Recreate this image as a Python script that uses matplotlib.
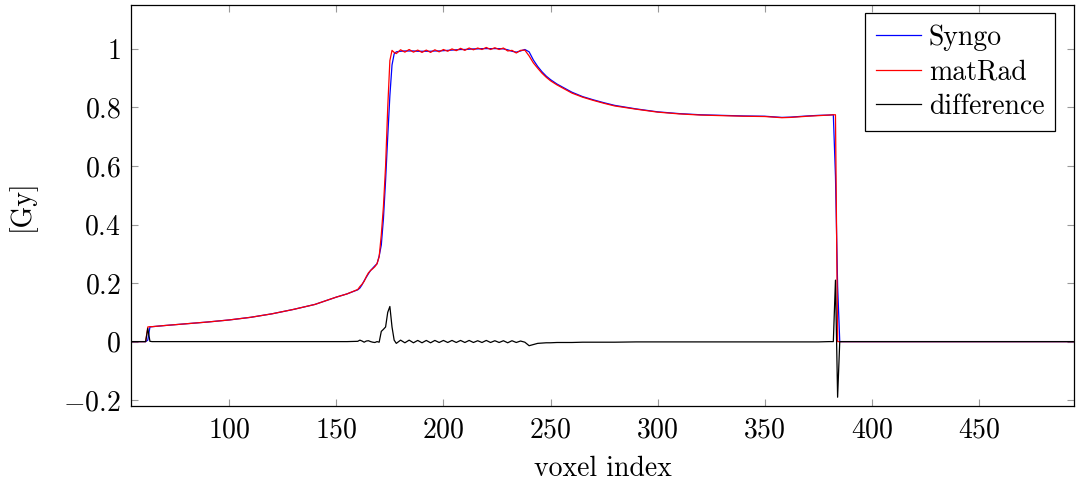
import matplotlib
matplotlib.use("Agg")
import matplotlib.pyplot as plt
from matplotlib.ticker import FuncFormatter, FixedLocator

# Dose profile along a line: Syngo vs matRad and their difference

voxel = [54, 61, 62, 63, 64, 70, 80, 90, 100, 110,
         120, 130, 140, 150, 155, 160, 161, 162, 163, 164,
         165, 166, 167, 168, 169, 170, 171, 172, 173, 174,
         175, 176, 177, 178, 180, 182, 184, 186, 188, 190,
         192, 194, 196, 198, 200, 202, 204, 206, 208, 210,
         212, 214, 216, 218, 220, 222, 224, 226, 228, 230,
         232, 234, 236, 238, 240, 242, 244, 246, 248, 250,
         253, 256, 260, 265, 270, 275, 280, 290, 300, 310,
         320, 330, 340, 350, 354, 358, 362, 366, 370, 375,
         380, 382, 383, 384, 385, 386, 494]

dose_syngo = [0.0, 0.0, 0.005, 0.050, 0.051, 0.055, 0.061, 0.067, 0.074, 0.083,
              0.095, 0.110, 0.127, 0.152, 0.163, 0.177, 0.183, 0.194, 0.208, 0.220,
              0.232, 0.243, 0.251, 0.259, 0.266, 0.292, 0.330, 0.420, 0.550, 0.700,
              0.840, 0.945, 0.983, 0.990, 0.992, 0.993, 0.993, 0.993, 0.992, 0.992,
              0.992, 0.992, 0.993, 0.993, 0.994, 0.995, 0.996, 0.997, 0.998, 0.998,
              0.999, 1.000, 1.000, 1.001, 1.001, 1.001, 1.001, 1.001, 1.000, 0.997,
              0.992, 0.989, 0.993, 0.998, 0.990, 0.962, 0.940, 0.922, 0.907, 0.895,
              0.880, 0.868, 0.852, 0.837, 0.826, 0.816, 0.807, 0.795, 0.785, 0.779,
              0.775, 0.773, 0.771, 0.770, 0.768, 0.766, 0.767, 0.769, 0.771, 0.773,
              0.774, 0.775, 0.565, 0.190, 0.0, 0.0, 0.0]

dose_matrad = [0.0, 0.0, 0.050, 0.051, 0.051, 0.055, 0.061, 0.067, 0.074, 0.083,
               0.095, 0.110, 0.127, 0.152, 0.163, 0.178, 0.188, 0.196, 0.206, 0.222,
               0.235, 0.243, 0.249, 0.256, 0.266, 0.290, 0.365, 0.462, 0.600, 0.800,
               0.960, 0.995, 0.988, 0.984, 0.997, 0.989, 0.998, 0.989, 0.996, 0.988,
               0.996, 0.988, 0.997, 0.990, 0.998, 0.992, 1.000, 0.994, 1.002, 0.995,
               1.003, 0.997, 1.003, 0.998, 1.005, 0.998, 1.004, 0.998, 1.003, 0.993,
               0.995, 0.986, 0.995, 0.996, 0.976, 0.952, 0.934, 0.917, 0.903, 0.891,
               0.877, 0.865, 0.849, 0.835, 0.824, 0.814, 0.805, 0.794, 0.784, 0.778,
               0.774, 0.772, 0.770, 0.769, 0.767, 0.765, 0.766, 0.768, 0.770, 0.772,
               0.774, 0.775, 0.775, 0.0, 0.0, 0.0, 0.0]

dose_diff = [0.0, 0.0, 0.045, 0.001, 0.0, 0.0, 0.0, 0.0, 0.0, 0.0,
             0.0, 0.0, 0.0, 0.0, 0.0, 0.001, 0.005, 0.002, -0.002, 0.002,
             0.003, 0.0, -0.002, -0.003, 0.0, -0.002, 0.035, 0.042, 0.050, 0.100,
             0.120, 0.050, 0.005, -0.006, 0.005, -0.004, 0.005, -0.004, 0.004, -0.004,
             0.004, -0.004, 0.004, -0.003, 0.004, -0.003, 0.004, -0.003, 0.004, -0.003,
             0.004, -0.003, 0.003, -0.003, 0.004, -0.003, 0.003, -0.003, 0.003, -0.004,
             0.003, -0.003, 0.002, -0.002, -0.014, -0.010, -0.006, -0.005, -0.004, -0.004,
             -0.003, -0.003, -0.003, -0.002, -0.002, -0.002, -0.002, -0.001, -0.001, -0.001,
             -0.001, -0.001, -0.001, -0.001, -0.001, -0.001, -0.001, -0.001, -0.001, -0.001,
             0.0, 0.0, 0.210, -0.190, 0.0, 0.0, 0.0]

x_ticks = [100, 150, 200, 250, 300, 350, 400, 450]
y_ticks = [-0.2, 0, 0.2, 0.4, 0.6, 0.8, 1]


plt.rcParams['font.family'] = ['cmr10', 'DejaVu Serif']
plt.rcParams['mathtext.fontset'] = 'cm'
plt.rcParams['mathtext.default'] = 'rm'
plt.rcParams['axes.unicode_minus'] = False

fig = plt.figure(figsize=(10.78, 4.86), dpi=100)
ax = fig.add_axes([0.1212, 0.1646, 0.8754, 0.8251])

ax.plot(voxel, dose_syngo, color=(0, 0, 1), lw=0.9, label='Syngo')
ax.plot(voxel, dose_matrad, color=(1, 0, 0), lw=0.9, label='matRad')
ax.plot(voxel, dose_diff, color='black', lw=0.9, label='difference')

ax.set_xlim(54, 494.5)
ax.set_ylim(-0.22, 1.15)

ax.xaxis.set_major_locator(FixedLocator(x_ticks))
ax.yaxis.set_major_locator(FixedLocator(y_ticks))
fmt = FuncFormatter(lambda v, pos: '$%g$' % v)
ax.xaxis.set_major_formatter(fmt)
ax.yaxis.set_major_formatter(fmt)

ax.tick_params(direction='in', length=5, width=0.8, color='#999999',
               top=True, right=True, labelsize=20)
ax.tick_params(axis='x', pad=8)
ax.tick_params(axis='y', pad=7)

for sp in ax.spines.values():
    sp.set_linewidth(0.9)
    sp.set_color('black')

ax.set_xlabel('voxel index', fontsize=20, labelpad=9)
ax.set_ylabel('[Gy]', fontsize=20, labelpad=20)

leg = ax.legend(loc='upper right', bbox_to_anchor=(0.98, 0.98), borderaxespad=0,
                fontsize=20, frameon=True, fancybox=False, framealpha=1,
                edgecolor='black', handlelength=1.6, handletextpad=0.3,
                labelspacing=0.3, borderpad=0.4)
leg.get_frame().set_linewidth(0.9)

fig.savefig('out.png', dpi=100)
